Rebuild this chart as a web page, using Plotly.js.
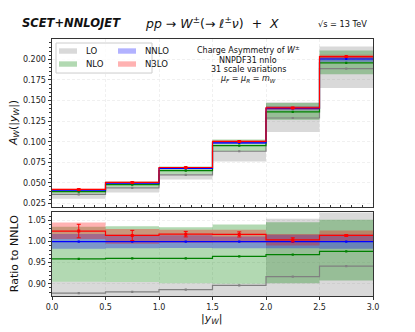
<!DOCTYPE html>
<html>
<head>
<meta charset="utf-8">
<script src="https://cdn.plot.ly/plotly-3.0.1.min.js"></script>
<style>
  html, body { margin: 0; padding: 0; background: #fff; }
  #myPlot { width: 415px; height: 332px; }
</style>
</head>
<body>
<div id="myPlot"></div>
<script>
// bins in |y_W|
var binEdges = [0.0, 0.5, 1.0, 1.5, 2.0, 2.5, 3.0];

// NNLO central value of the charge asymmetry per bin
var nnloCentral = [0.0410, 0.0498, 0.0675, 0.0987, 0.1405, 0.2005];

// all orders given as ratio to NNLO central: central, scale band low / high
var loRatio   = [0.878, 0.881, 0.886, 0.896, 0.917, 0.942];
var loLow     = [0.745, 0.767, 0.800, 0.770, 0.796, 0.825];
var loHigh    = [0.905, 0.904, 0.901, 0.900, 1.054, 1.075];

var nloRatio  = [0.959, 0.960, 0.960, 0.965, 0.969, 0.977];
var nloLow    = [0.905, 0.904, 0.901, 0.900, 0.901, 0.908];
var nloHigh   = [1.035, 1.0365, 1.034, 1.0405, 1.046, 1.052];

var nnloRatio = [1.0, 1.0, 1.0, 1.0, 1.0, 1.0];
var nnloLow   = [0.983, 0.984, 0.985, 0.984, 0.984, 0.983];
var nnloHigh  = [1.018, 1.016, 1.015, 1.012, 1.016, 1.017];

var n3loRatio = [1.025, 1.0145, 1.0176, 1.017, 1.004, 1.0145];
var n3loLow   = [1.006, 0.995, 0.997, 0.998, 0.991, 1.001];
var n3loHigh  = [1.045, 1.030, 1.028, 1.028, 1.018, 1.026];
var n3loErr   = [0.016, 0.012, 0.0065, 0.006, 0.005, 0.002];

var orderNames = ["LO", "NLO", "NNLO", "N3LO"];

var binCenters = [];
for (var i = 0; i < binEdges.length - 1; i++) {
  binCenters.push((binEdges[i] + binEdges[i + 1]) / 2);
}

function stepY(arr) { return arr.concat([arr[arr.length - 1]]); }
function toAbs(arr) { return arr.map(function (v, i) { return v * nnloCentral[i]; }); }

var orders = [
  {c: loRatio,   lo: loLow,   hi: loHigh,   err: null,    line: "rgb(128,128,128)", fill: "rgba(128,128,128,0.3)"},
  {c: nloRatio,  lo: nloLow,  hi: nloHigh,  err: null,    line: "rgb(0,128,0)",     fill: "rgba(0,128,0,0.3)"},
  {c: nnloRatio, lo: nnloLow, hi: nnloHigh, err: null,    line: "rgb(0,0,255)",     fill: "rgba(0,0,255,0.3)"},
  {c: n3loRatio, lo: n3loLow, hi: n3loHigh, err: n3loErr, line: "rgb(255,0,0)",     fill: "rgba(255,0,0,0.3)"}
];

var data = [];
var panels = [{xa: "x", ya: "y", abs: true}, {xa: "x2", ya: "y2", abs: false}];

panels.forEach(function (p) {
  var conv = p.abs ? toAbs : function (a) { return a; };
  // bands
  orders.forEach(function (o) {
    data.push({x: binEdges, y: stepY(conv(o.lo)), xaxis: p.xa, yaxis: p.ya, mode: "lines",
      line: {shape: "hv", width: 0}, showlegend: false, hoverinfo: "skip"});
    data.push({x: binEdges, y: stepY(conv(o.hi)), xaxis: p.xa, yaxis: p.ya, mode: "lines",
      line: {shape: "hv", width: 0}, fill: "tonexty", fillcolor: o.fill, showlegend: false, hoverinfo: "skip"});
  });
  // central step lines
  orders.forEach(function (o) {
    data.push({x: binEdges, y: stepY(conv(o.c)), xaxis: p.xa, yaxis: p.ya, mode: "lines",
      line: {shape: "hv", width: 1.2, color: o.line}, showlegend: false});
  });
  // bin-centre points
  orders.forEach(function (o) {
    var tr = {x: binCenters, y: conv(o.c), xaxis: p.xa, yaxis: p.ya, mode: "markers",
      marker: {symbol: "square", size: o.err ? 3 : 2.2, color: o.line}, showlegend: false};
    if (o.err) {
      tr.error_y = {type: "data", array: conv(o.err), color: o.line, thickness: 1, width: 2};
    }
    data.push(tr);
  });
});

// plot area in pixels
var L = 52, R = 373, T = 39, B = 295.7;
function pxX(p) { return (p - L) / (R - L); }
function pxY(p) { return (B - p) / (B - T); }

var font = "DejaVu Sans, sans-serif";
var axisCol = "#333";
var gridCol = "#ececec";

function txt(x, y, s, size, xanchor, extra) {
  var a = {xref: "paper", yref: "paper", x: pxX(x), y: pxY(y), text: s, showarrow: false,
    xanchor: xanchor || "center", yanchor: "middle", font: {family: font, size: size, color: "#111"}};
  if (extra) { for (var k in extra) a[k] = extra[k]; }
  return a;
}

var annotations = [
  txt(20, 23, "<b><i>SCET+NNLOJET</i></b>", 11.5, "left"),
  txt(212, 23, "<i>pp</i> → <i>W</i><sup>±</sup>(→ <i>ℓ</i><sup>±</sup><i>ν</i>)  +  <i>X</i>", 12.5, "center"),
  txt(342, 24, "√s = 13 TeV", 8.2, "center"),
  txt(248, 50, "Charge Asymmetry of <i>W</i><sup>±</sup>", 8, "center"),
  txt(248, 60, "NNPDF31 nnlo", 8, "center"),
  txt(248, 69.5, "31 scale variations", 8, "center"),
  txt(248, 79, "<i>μ<sub>F</sub></i> = <i>μ<sub>R</sub></i> = <i>m<sub>W</sub></i>", 8, "center"),
  txt(14, 123, "<i>A<sub>W</sub></i>(|<i>y<sub>W</sub></i>|)", 11, "center", {textangle: -90}),
  txt(14, 254, "Ratio to NNLO", 11, "center", {textangle: -90}),
  txt(212, 318.5, "|<i>y<sub>W</sub></i>|", 11, "center")
];

// legend box drawn by hand (two columns)
var shapes = [
  {type: "rect", xref: "paper", yref: "paper", x0: pxX(56), x1: pxX(152), y0: pxY(73), y1: pxY(43),
    line: {color: "#cccccc", width: 1}, fillcolor: "rgba(255,255,255,0.8)", layer: "above"}
];
var legendPos = [[59, 51, 84], [59, 64, 84], [118, 51, 143], [118, 64, 143]];
orders.forEach(function (o, i) {
  var lp = legendPos[i];
  shapes.push({type: "rect", xref: "paper", yref: "paper", x0: pxX(lp[0]), x1: pxX(lp[0] + 18),
    y0: pxY(lp[1] + 2.7), y1: pxY(lp[1] - 2.7), line: {width: 0}, fillcolor: o.fill, layer: "above"});
  annotations.push(txt(lp[2], lp[1], orderNames[i], 8.5, "left"));
});

var tickFont = {family: font, size: 8, color: "#222"};
function xAx(extra) {
  var a = {range: [0, 3], tick0: 0, dtick: 0.5, showline: true, mirror: true, linecolor: axisCol, linewidth: 1,
    showgrid: true, gridcolor: gridCol, griddash: "3px,2px", gridwidth: 0.8, zeroline: false,
    ticks: "outside", ticklen: 3, tickcolor: axisCol, tickfont: tickFont};
  for (var k in extra) a[k] = extra[k];
  return a;
}
function yAx(extra) {
  var a = {showline: true, mirror: true, linecolor: axisCol, linewidth: 1,
    showgrid: true, gridcolor: gridCol, griddash: "3px,2px", gridwidth: 0.8, zeroline: false,
    ticks: "outside", ticklen: 3.5, tickcolor: axisCol, tickfont: tickFont};
  for (var k in extra) a[k] = extra[k];
  return a;
}

var layout = {
  width: 415, height: 332,
  margin: {l: L, r: 415 - R, t: T, b: 332 - B},
  paper_bgcolor: "#fff", plot_bgcolor: "#fff",
  showlegend: false,
  font: {family: font},
  xaxis: xAx({anchor: "y", showticklabels: false, ticks: "inside",
    minor: {dtick: 0.1, ticklen: 2, ticks: "inside", tickcolor: axisCol}}),
  yaxis: yAx({anchor: "x", domain: [0.348, 1], range: [0.0212, 0.2248], tick0: 0, dtick: 0.025, tickformat: ".3f",
    minor: {dtick: 0.005, ticklen: 2, ticks: "outside", tickcolor: axisCol}}),
  xaxis2: xAx({anchor: "y2", tickformat: ".1f"}),
  yaxis2: yAx({anchor: "x2", domain: [0, 0.325], range: [0.871, 1.069], tick0: 0, dtick: 0.05, tickformat: ".2f",
    minor: {dtick: 0.01, ticklen: 2, ticks: "outside", tickcolor: axisCol}}),
  annotations: annotations,
  shapes: shapes
};

Plotly.newPlot("myPlot", data, layout, {staticPlot: true});
</script>
</body>
</html>
